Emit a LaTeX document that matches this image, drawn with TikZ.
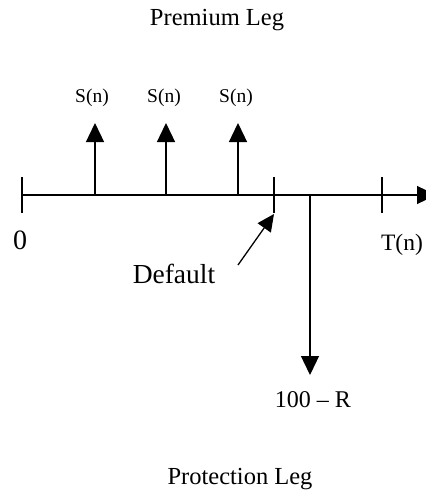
\documentclass[tikz,border=0pt]{standalone}
\usepackage{fontspec}
\setmainfont{Liberation Serif}
\usetikzlibrary{arrows.meta}
\tikzset{
  lbl/.style={inner sep=0pt, anchor=base},
  ln/.style={line width=1.3pt, black},
  arr/.style={ln, -{Triangle[length=19pt,width=18pt]}},
  tickline/.style={ln},
}
\begin{document}
\begin{tikzpicture}[x=1pt,y=-1pt]
\useasboundingbox (0,0) rectangle (426,493);
\clip (0,0) rectangle (426,493);
% texts
\node[lbl, font=\fontsize{24.5}{24.5}\selectfont] (prem) at (217,25) {Premium Leg};
\node[lbl, font=\fontsize{19.5}{19.5}\selectfont] (s1) at (92,102) {S(n)};
\node[lbl, font=\fontsize{19.5}{19.5}\selectfont] (s2) at (164,102) {S(n)};
\node[lbl, font=\fontsize{19.5}{19.5}\selectfont] (s3) at (236,102) {S(n)};
\node[lbl, font=\fontsize{28}{28}\selectfont] (zero) at (20,249) {0};
\node[lbl, font=\fontsize{23.5}{23.5}\selectfont] (tn) at (402,250) {T(n)};
\node[lbl, font=\fontsize{27.5}{27.5}\selectfont] (dflt) at (174,283) {Default};
\node[lbl, font=\fontsize{24}{24}\selectfont] (rec) at (313,407) {100 – R};
\node[lbl, font=\fontsize{24.5}{24.5}\selectfont] (prot) at (240,484) {Protection Leg};
% axis
\coordinate (a0) at (22,195);
\coordinate (aend) at (436,195);
\draw[arr] (a0) -- (aend);
% ticks
\coordinate (t0a) at (22,177); \coordinate (t0b) at (22,213);
\coordinate (tda) at (274,177); \coordinate (tdb) at (274,213);
\coordinate (tna) at (382,177); \coordinate (tnb) at (382,213);
\draw[tickline] (t0a) -- (t0b);
\draw[tickline] (tda) -- (tdb);
\draw[tickline] (tna) -- (tnb);
% premium payments
\coordinate (p1b) at (95,195); \coordinate (p1t) at (95,123);
\coordinate (p2b) at (166,195); \coordinate (p2t) at (166,123);
\coordinate (p3b) at (238,195); \coordinate (p3t) at (238,123);
\draw[arr] (p1b) -- (p1t);
\draw[arr] (p2b) -- (p2t);
\draw[arr] (p3b) -- (p3t);
% protection payment
\coordinate (qb) at (310,195); \coordinate (qt) at (310,375);
\draw[arr] (qb) -- (qt);
% default pointer
\coordinate (ds) at (238,265); \coordinate (de) at (274,214);
\draw[ln, -{Triangle[length=17pt,width=16pt]}] (ds) -- (de);
\end{tikzpicture}
\end{document}
